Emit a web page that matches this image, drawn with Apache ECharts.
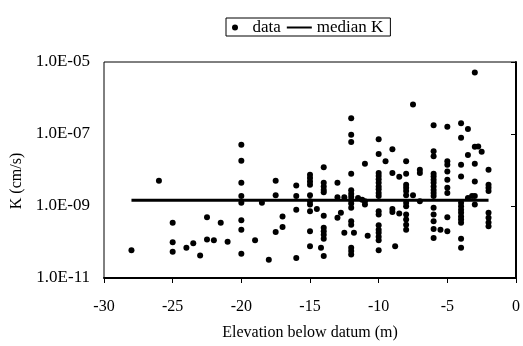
<!DOCTYPE html>
<html>
<head>
<meta charset="utf-8">
<script src="https://cdn.jsdelivr.net/npm/echarts@6/dist/echarts.min.js"></script>
<style>html,body{margin:0;padding:0;background:#fff}#c{width:523px;height:346px}</style>
</head>
<body>
<div id="c"></div>
<script>
// Elevation levels (m) and the K values (cm/s) read at each level
const elevationLevels = [-28, -26, -25, -24, -23.5, -23, -22.5, -22, -21.5, -21,
  -20, -19, -18.5, -18, -17.5, -17, -16, -15, -14.5, -14.2, -14, -13, -12.75, -12.5,
  -12, -11.8, -11.5, -11.2, -11, -10.8, -10, -9.5, -9, -8.8, -8.5, -8, -7.5, -7, -6,
  -5.5, -5, -4, -3.5, -3.2, -3, -2.75, -2.5, -2];
const kAtLevel = [
  [5.9e-11],
  [5.0e-9],
  [3.4e-10, 9.8e-11, 5.4e-11],
  [6.9e-11],
  [9.3e-11],
  [4.2e-11],
  [4.9e-10, 1.17e-10],
  [1.12e-10],
  [3.4e-10],
  [1.02e-10],
  [5.0e-8, 1.8e-8, 4.4e-9, 1.9e-9, 1.23e-9, 4.0e-10, 2.2e-10, 4.7e-11],
  [1.12e-10],
  [1.23e-9],
  [3.2e-11],
  [5.0e-9, 2.0e-9, 1.9e-10],
  [5.1e-10, 2.6e-10],
  [3.7e-9, 1.9e-9, 7.9e-10, 3.6e-11],
  [7.4e-9, 6.0e-9, 4.8e-9, 3.9e-9, 2.0e-9, 1.35e-9, 1.1e-9, 7.1e-10, 2.0e-10, 7.6e-11],
  [8.3e-10],
  [6.9e-11],
  [1.2e-8, 4.4e-9, 3.5e-9, 2.8e-9, 2.4e-9, 5.4e-10, 2.5e-10, 2.0e-10, 1.6e-10, 1.23e-10, 4.1e-11],
  [4.4e-9, 1.74e-9, 4.7e-10],
  [6.5e-10],
  [1.74e-9, 1.8e-10],
  [2.75e-7, 9.5e-8, 6.0e-8, 7.9e-9, 2.75e-9, 2.2e-9, 1.8e-9, 1.45e-9, 1.17e-9, 8.9e-10, 3.8e-10, 3.0e-10, 6.9e-11, 5.6e-11, 4.5e-11],
  [1.8e-10],
  [1.66e-9],
  [1.5e-9],
  [1.48e-8, 1.35e-9, 1.1e-9],
  [1.5e-10],
  [7.2e-8, 2.8e-8, 8.3e-9, 6.8e-9, 5.5e-9, 4.4e-9, 3.5e-9, 2.9e-9, 2.3e-9, 1.9e-9, 7.1e-10, 5.8e-10, 2.9e-10, 2.2e-10, 1.8e-10, 1.4e-10, 1.12e-10, 5.9e-11],
  [1.74e-8],
  [3.8e-8, 8.3e-9, 8.3e-10, 6.8e-10],
  [7.6e-11],
  [6.5e-9, 6.2e-10],
  [1.74e-8, 7.9e-9, 3.9e-9, 3.2e-9, 2.6e-9, 2.0e-9, 1.23e-9, 9.8e-10, 5.8e-10, 4.2e-10, 3.0e-10, 2.2e-10],
  [6.6e-7, 2.0e-9],
  [1.02e-8, 8.3e-9, 1.35e-9],
  [1.74e-7, 3.3e-8, 2.4e-8, 7.9e-9, 6.6e-9, 5.4e-9, 4.4e-9, 3.5e-9, 2.8e-9, 2.3e-9, 1.9e-9, 8.9e-10, 5.8e-10, 3.8e-10, 2.3e-10, 1.3e-10],
  [2.2e-10],
  [1.6e-7, 1.74e-8, 1.4e-8, 9.1e-9, 5.4e-9, 3.2e-9, 2.3e-9, 4.9e-10, 2.0e-10],
  [2.0e-7, 7.9e-8, 1.4e-8, 6.6e-9, 1.23e-9, 9.8e-10, 7.9e-10, 6.5e-10, 5.1e-10, 4.2e-10, 3.4e-10, 1.23e-10, 6.9e-11],
  [1.38e-7, 2.6e-8, 1.66e-9],
  [1.9e-9],
  [5.1e-6, 4.4e-8, 1.48e-8, 4.8e-9, 1.9e-9, 1.1e-9],
  [4.5e-8],
  [3.2e-8],
  [1.02e-8, 3.9e-9, 3.2e-9, 2.6e-9, 6.5e-10, 4.7e-10, 3.5e-10, 2.75e-10]
];
const medianK = 1.44e-9;
const medianRange = [-28, -2];
const yLabelExponents = [-11, -9, -7, -5];

const scatterData = [];
elevationLevels.forEach((x, i) => kAtLevel[i].forEach(k => scatterData.push([x, k])));
const medianData = medianRange.map(x => [x, medianK]);

const font = 'Liberation Serif, Times New Roman, serif';
const chart = echarts.init(document.getElementById('c'), null, {renderer: 'canvas'});
chart.setOption({
  animation: false,
  backgroundColor: '#fff',
  grid: {left: 104, right: 4, top: 62, bottom: 68, show: true, borderColor: '#000', borderWidth: 1, backgroundColor: 'transparent'},
  legend: {
    left: 226, top: 18,
    padding: [1, 7, 0, 6],
    borderColor: '#000', borderWidth: 1, borderRadius: 0,
    itemWidth: 25, itemHeight: 6, itemGap: 5,
    textStyle: {fontFamily: font, fontSize: 17, color: '#000'},
    data: [
      {name: 'data'},
      {name: 'median K', itemStyle: {opacity: 0}}
    ]
  },
  xAxis: {
    type: 'value', min: -30, max: 0, interval: 5,
    name: 'Elevation below datum (m)', nameLocation: 'middle', nameGap: 47,
    nameTextStyle: {fontFamily: font, fontSize: 16, color: '#000'},
    axisLine: {show: true, onZero: false, lineStyle: {color: '#000', width: 2}},
    axisTick: {show: true, inside: false, length: 5, lineStyle: {color: '#000', width: 1}},
    axisLabel: {fontFamily: font, fontSize: 16, color: '#000', margin: 21},
    splitLine: {show: false}
  },
  yAxis: {
    type: 'log', logBase: 10, min: 1e-11, max: 1e-5,
    name: 'K (cm/s)', nameLocation: 'middle', nameGap: 78,
    nameTextStyle: {fontFamily: font, fontSize: 16, color: '#000', padding: [0, 22, 0, 0]},
    axisLine: {show: true, lineStyle: {color: '#000', width: 2}},
    axisTick: {show: true, inside: false, length: 5, lineStyle: {color: '#000', width: 1},
      customValues: yLabelExponents.map(e => Math.pow(10, e))},
    axisLabel: {
      fontFamily: font, fontSize: 17, color: '#000', margin: 14,
      formatter: v => {
        const e = Math.round(Math.log10(v));
        if (yLabelExponents.indexOf(e) < 0) return '';
        const a = Math.abs(e);
        return '1.0E' + (e < 0 ? '-' : '+') + (a < 10 ? '0' + a : a);
      }
    },
    splitLine: {show: false}
  },
  series: [
    {
      name: 'data', type: 'scatter', data: scatterData,
      symbol: 'circle', symbolSize: 6,
      itemStyle: {color: '#000', opacity: 1}
    },
    {
      name: 'median K', type: 'line', data: medianData,
      symbol: 'none', showSymbol: false,
      lineStyle: {color: '#000', width: 3},
      itemStyle: {color: '#000'}
    }
  ]
});
</script>
</body>
</html>
